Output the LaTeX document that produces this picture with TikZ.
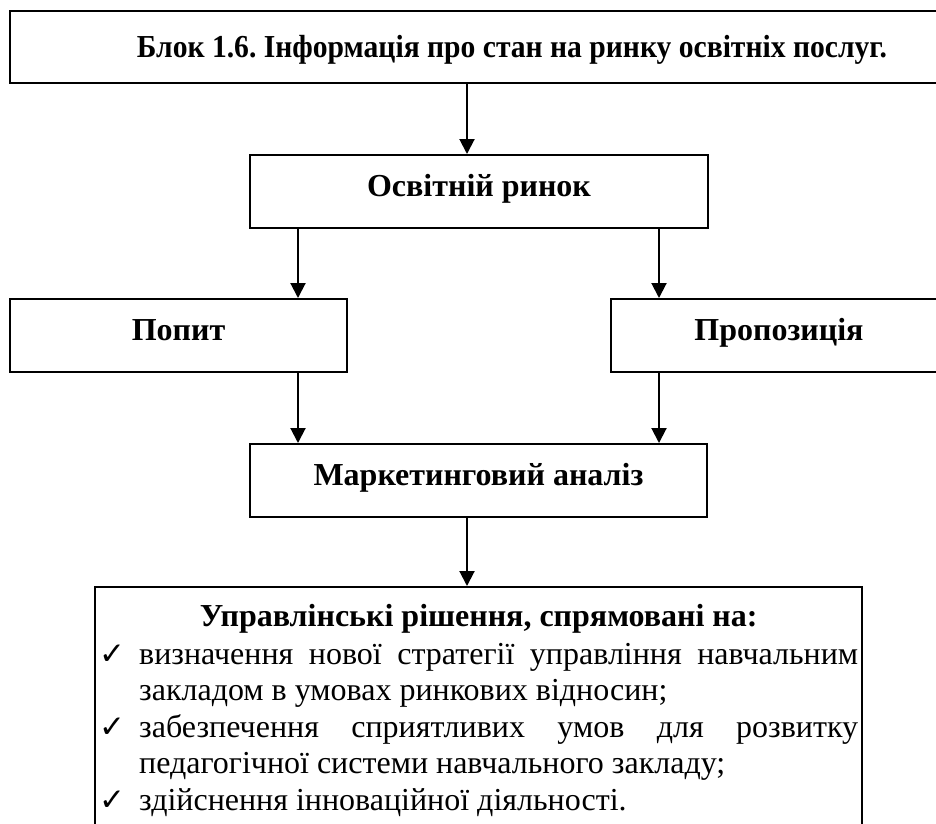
\documentclass[tikz,border=0pt]{standalone}
\usepackage{fontspec}
\setmainfont{Liberation Serif}
\newfontfamily\symfont{DejaVu Sans}
\usetikzlibrary{arrows.meta}
\frenchspacing

% check mark that opens a list item, with a hanging indent
\newcommand\chkmark{\makebox[40pt][l]{\fontsize{31}{36}\symfont ✓}}

\begin{document}
\begin{tikzpicture}[x=1pt,y=-1pt,
  block/.style={draw, line width=2pt, inner sep=0pt, minimum height=73pt,
    text height=21pt, text depth=12pt,
    font=\fontsize{32}{36}\selectfont\bfseries},
  arr/.style={line width=2pt, -{Triangle[width=15pt,length=15pt]}}]
\useasboundingbox (0,0) rectangle (936,823);
\fill[white] (0,0) rectangle (936,823);

% x positions of the vertical connectors
\coordinate (xc) at (467,0);
\coordinate (xl) at (298,0);
\coordinate (xr) at (659,0);

\node[block, minimum width=1004pt, minimum height=72pt, text height=26pt, text depth=6pt]
  (info) at (512,47)
  {\resizebox{750pt}{\height}{Блок 1.6. Інформація про стан на ринку освітніх послуг.}};
\node[block, minimum width=458pt] (market) at (479,191.5) {Освітній ринок};
\node[block, minimum width=337pt] (demand) at (178.5,335.5) {Попит};
\node[block, minimum width=336pt] (supply) at (779,335.5) {Пропозиція};
\node[block, minimum width=457pt] (analysis) at (478.5,480.5) {Маркетинговий аналіз};
\node[draw, line width=2pt, inner sep=0pt, minimum width=767pt, minimum height=253pt]
  (decisions) at (478.5,713.5) {};

\node[anchor=base west, inner sep=0pt, font=\fontsize{32}{36.5}\selectfont] (items) at (99,626) {%
\begin{minipage}[t]{759pt}
\makebox[759pt]{\bfseries Управлінські рішення, спрямовані на:}\par\vspace{1.5pt}
\chkmark\makebox[719pt][s]{визначення нової стратегії управління навчальним}\par
\hspace*{40pt}закладом в умовах ринкових відносин;\par
\chkmark\makebox[719pt][s]{забезпечення сприятливих умов для розвитку}\par
\hspace*{40pt}педагогічної системи навчального закладу;\par
\chkmark здійснення інноваційної діяльності.
\end{minipage}};

\draw[arr] (info.south -| xc) -- (market.north -| xc);
\draw[arr] (market.south -| xl) -- (demand.north -| xl);
\draw[arr] (market.south -| xr) -- (supply.north -| xr);
\draw[arr] (demand.south -| xl) -- (analysis.north -| xl);
\draw[arr] (supply.south -| xr) -- (analysis.north -| xr);
\draw[arr] (analysis.south -| xc) -- (decisions.north -| xc);
\end{tikzpicture}
\end{document}
